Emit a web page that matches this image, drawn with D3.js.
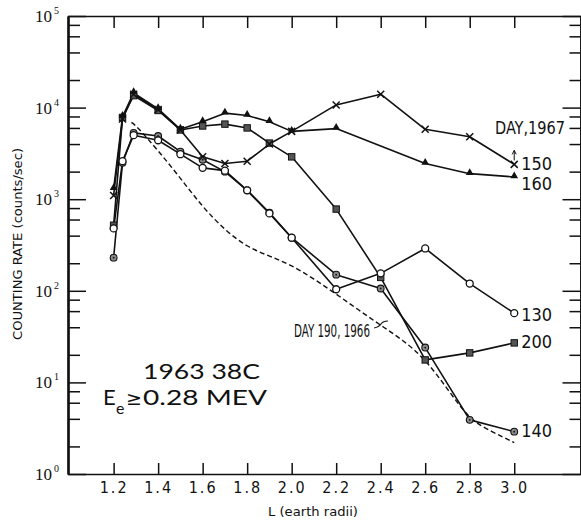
<!DOCTYPE html>
<html><head><meta charset="utf-8">
<script src="https://cdn.jsdelivr.net/npm/d3@7"></script>
<style>body{margin:0;background:#fff} svg{display:block}</style>
</head><body>
<svg id="c" width="581" height="520"></svg>
<script>
// ---------------- data ----------------
const xTickValues = [1.2,1.4,1.6,1.8,2.0,2.2,2.4,2.6,2.8,3.0];
const xTickLabels = ["1.2","1.4","1.6","1.8","2.0","2.2","2.4","2.6","2.8","3.0"];
const yDecades = [1,10,100,1000,10000,100000];
const yDecadeExp = ["0","1","2","3","4","5"];
const yMinorMult = [2,4,6,8];

const L130 = [1.2,1.24,1.29,1.4,1.5,1.6,1.7,1.8,1.9,2.0,2.2,2.4,2.6,2.8,3.0];
const day130 = [480,2600,5000,4400,3100,2200,2050,1250,700,380,104,155,290,120,57];

const L140 = [1.2,1.24,1.29,1.4,1.5,1.6,1.7,1.8,1.9,2.0,2.2,2.4,2.6,2.8,3.0];
const day140 = [230,2500,5300,4900,3300,2700,2000,1250,710,380,150,106,24,3.9,2.9];

const L150 = [1.2,1.24,1.29,1.4,1.5,1.6,1.7,1.8,1.9,2.0,2.2,2.4,2.6,2.8,3.0];
const day150 = [1100,7500,14000,9500,5700,2900,2450,2600,4000,5500,10700,14000,5800,4800,2400];

const L160 = [1.2,1.24,1.29,1.4,1.5,1.6,1.7,1.8,1.9,2.0,2.2,2.6,2.8,3.0];
const day160 = [1300,8000,14500,9700,5800,7000,8700,8200,7000,5500,5900,2450,1900,1750];

const L200 = [1.2,1.24,1.29,1.4,1.5,1.6,1.7,1.8,1.9,2.0,2.2,2.4,2.6,2.8,3.0];
const day200 = [520,7800,13500,9300,5700,6300,6600,6000,4100,2900,780,140,17.6,21,27];

const L190_1966 = [1.28,1.3,1.4,1.5,1.6,1.7,1.8,1.9,2.0,2.1,2.2,2.3,2.4,2.5,2.6,2.7,2.8,2.9,3.0];
const day190_1966 = [6900,6400,3400,1700,820,460,300,240,190,135,92,62,42,29,18,8.5,3.9,2.9,2.2];

const seriesNames = ["130","140","150","160","200"];

(function(){
const svg = d3.select("#c");
const pl = 68, pr = 581, pt = 16, pb = 474;
const x = d3.scaleLinear().domain([0.995, 3.3]).range([pl, pr]);
const y = d3.scaleLog().domain([1, 1e5]).range([pb, pt]);

const yMinor = [];
yDecades.slice(0,-1).forEach(d => yMinorMult.forEach(m => yMinor.push(d*m)));

const ink = "#111";
const narrow = "'Liberation Sans Narrow','DejaVu Sans Condensed','Liberation Sans',sans-serif";

function styleAxis(g, w){
  g.selectAll("path.domain").attr("stroke", ink).attr("stroke-width", w);
  g.selectAll(".tick line").attr("stroke", ink).attr("stroke-width", 1.5);
}
const gB = svg.append("g").attr("transform",`translate(0,${pb})`)
  .call(d3.axisBottom(x).tickValues(xTickValues).tickSizeInner(-11).tickSizeOuter(0)
    .tickPadding(8).tickFormat((d,i)=>xTickLabels[i]));
styleAxis(gB, 1.6);
gB.selectAll(".tick text").attr("font-family", narrow).attr("font-size", 16)
  .attr("fill", ink).attr("letter-spacing", "2px");
const gT = svg.append("g").attr("transform",`translate(0,${pt})`)
  .call(d3.axisTop(x).tickValues(xTickValues).tickSizeInner(-12).tickSizeOuter(0).tickFormat(""));
styleAxis(gT, 1.6);
const gL = svg.append("g").attr("transform",`translate(${pl},0)`)
  .call(d3.axisLeft(y).tickValues(yDecades).tickSizeInner(-18).tickSizeOuter(0).tickFormat(""));
styleAxis(gL, 2.2);
const gLm = svg.append("g").attr("transform",`translate(${pl},0)`)
  .call(d3.axisLeft(y).tickValues(yMinor).tickSizeInner(-12).tickSizeOuter(0).tickFormat(""));
styleAxis(gLm, 2.2);
const gR = svg.append("g").attr("transform",`translate(${pr-0.5},0)`)
  .call(d3.axisRight(y).tickValues(yDecades).tickSizeInner(-18).tickSizeOuter(0).tickFormat(""));
styleAxis(gR, 1.6);
const gRm = svg.append("g").attr("transform",`translate(${pr-0.5},0)`)
  .call(d3.axisRight(y).tickValues(yMinor).tickSizeInner(-11).tickSizeOuter(0).tickFormat(""));
styleAxis(gRm, 1.6);

yDecades.forEach((d,i)=>{
  const t = svg.append("text").attr("x", 35).attr("y", y(d)+6)
    .attr("font-family","'Liberation Serif','DejaVu Serif',serif").attr("font-size",17).attr("fill",ink);
  t.append("tspan").text("10");
  t.append("tspan").attr("dy",-8).attr("dx",2).attr("font-size",10).text(yDecadeExp[i]);
});

svg.append("text").attr("transform",`translate(22,244) rotate(-90)`)
  .attr("text-anchor","middle").attr("font-family",narrow).attr("font-size",12.5)
  .attr("fill",ink).attr("textLength",192).attr("lengthAdjust","spacingAndGlyphs")
  .text("COUNTING RATE (counts/sec)");
svg.append("text").attr("x",268).attr("y",516)
  .attr("font-family",narrow).attr("font-size",13).attr("fill",ink)
  .attr("textLength",90).attr("lengthAdjust","spacingAndGlyphs")
  .text("L (earth radii)");

const line = d3.line().x(d=>x(d[0])).y(d=>y(d[1]));
const zipS = (L,V)=>L.map((l,i)=>[l,V[i]]);

svg.append("path").datum(zipS(L190_1966, day190_1966))
  .attr("d", d3.line().x(d=>x(d[0])).y(d=>y(d[1])).curve(d3.curveBasis))
  .attr("fill","none").attr("stroke",ink).attr("stroke-width",1.4).attr("stroke-dasharray","5,3");

const data = {
  "130": zipS(L130, day130),
  "140": zipS(L140, day140),
  "150": zipS(L150, day150),
  "160": zipS(L160, day160),
  "200": zipS(L200, day200)
};
seriesNames.forEach(k=>{
  svg.append("path").datum(data[k]).attr("d", line)
    .attr("fill","none").attr("stroke",ink).attr("stroke-width",1.6).attr("stroke-linejoin","round");
});

const mg = svg.append("g");
data["140"].forEach(d=>{
  mg.append("circle").attr("cx",x(d[0])).attr("cy",y(d[1])).attr("r",3.4)
    .attr("fill","#8a8a8a").attr("stroke",ink).attr("stroke-width",1.1);
  mg.append("circle").attr("cx",x(d[0])).attr("cy",y(d[1])).attr("r",0.9).attr("fill",ink);
});
data["200"].forEach(d=>{
  mg.append("rect").attr("x",x(d[0])-3.2).attr("y",y(d[1])-3.2).attr("width",6.4).attr("height",6.4)
    .attr("fill","#555").attr("stroke",ink).attr("stroke-width",1);
});
data["160"].forEach(d=>{
  mg.append("path").attr("d", d3.symbol().type(d3.symbolTriangle).size(26)())
    .attr("transform",`translate(${x(d[0])},${y(d[1])-1})`).attr("fill",ink);
});
data["150"].forEach(d=>{
  const cx=x(d[0]), cy=y(d[1]), s=3.5;
  mg.append("path").attr("d",`M${cx-s},${cy-s}L${cx+s},${cy+s}M${cx-s},${cy+s}L${cx+s},${cy-s}`)
    .attr("stroke",ink).attr("stroke-width",1.5);
});
data["130"].forEach(d=>{
  mg.append("circle").attr("cx",x(d[0])).attr("cy",y(d[1])).attr("r",3.5)
    .attr("fill","#fff").attr("stroke",ink).attr("stroke-width",1.3);
});

const lastOf = k => data[k][data[k].length-1];
const labelDy = {"130":8,"140":5.5,"150":6,"160":13,"200":5};
seriesNames.forEach(k=>{
  const p = lastOf(k);
  svg.append("text").attr("x", x(p[0])+7).attr("y", y(p[1])+labelDy[k])
    .attr("font-family",narrow).attr("font-size",18).attr("fill",ink).text(k);
});
const p150 = lastOf("150");
svg.append("text").attr("x",495).attr("y",y(p150[1])-30)
  .attr("font-family",narrow).attr("font-size",18).attr("fill",ink)
  .attr("textLength",70).attr("lengthAdjust","spacingAndGlyphs").text("DAY,1967");
const ax = x(p150[0]), ay = y(p150[1]);
svg.append("path").attr("d",`M${ax},${ay-4}L${ax},${ay-14}M${ax-2},${ay-10}L${ax},${ay-14}L${ax+2},${ay-10}`)
  .attr("fill","none").attr("stroke",ink).attr("stroke-width",1);

svg.append("text").attr("x",294).attr("y",337)
  .attr("font-family",narrow).attr("font-size",18).attr("fill",ink)
  .attr("textLength",76).attr("lengthAdjust","spacingAndGlyphs").text("DAY 190, 1966");
svg.append("path").attr("d","M374,328 Q379,327 381,324 Q383,321 388,321")
  .attr("fill","none").attr("stroke",ink).attr("stroke-width",1.2);

const geo = "'Lato','Noto Sans','Liberation Sans',sans-serif";
svg.append("text").attr("x",143).attr("y",379).attr("font-family",geo).attr("font-size",21)
  .attr("fill",ink).attr("textLength",117).attr("lengthAdjust","spacingAndGlyphs").text("1963 38C");
svg.append("text").attr("x",103).attr("y",405).attr("font-family",geo).attr("font-size",22)
  .attr("fill",ink).text("E");
svg.append("text").attr("x",116).attr("y",414).attr("font-family",geo).attr("font-size",16)
  .attr("fill",ink).text("e");
svg.append("text").attr("x",126).attr("y",405).attr("font-family","'DejaVu Sans',sans-serif").attr("font-size",19)
  .attr("fill",ink).text("≥");
svg.append("text").attr("x",143).attr("y",405).attr("font-family",geo).attr("font-size",21)
  .attr("fill",ink).attr("textLength",124).attr("lengthAdjust","spacingAndGlyphs").text("0.28 MEV");
})();
</script>
</body></html>
